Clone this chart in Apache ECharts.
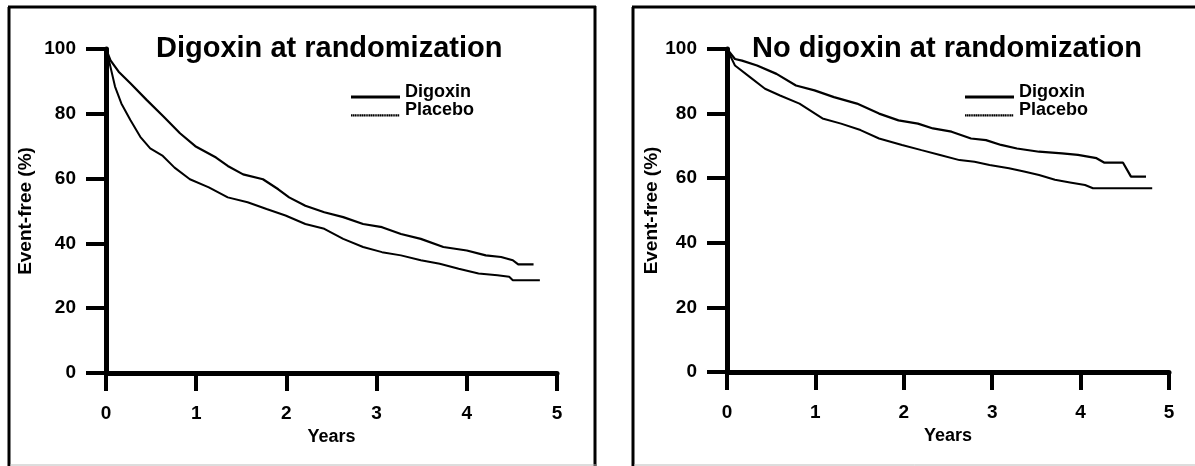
<!DOCTYPE html>
<html>
<head>
<meta charset="utf-8">
<script src="https://cdn.jsdelivr.net/npm/echarts@6/dist/echarts.min.js"></script>
<style>
  html, body { margin: 0; padding: 0; background: #fff; }
  #chart { width: 1195px; height: 466px; }
</style>
</head>
<body>
<div id="chart"></div>
<script>
// Kaplan-Meier style event-free curves, two subgroups side by side
const panelTitles = ['Digoxin at randomization', 'No digoxin at randomization'];
const seriesNames = ['Digoxin', 'Placebo'];
const yearTicks = [0, 1, 2, 3, 4, 5];
const pctTicks = [0, 20, 40, 60, 80, 100];

// Panel 1: patients on digoxin at randomization  [years, event-free %]
const withDigDigoxin = [
  [0, 100], [0.05, 96.5], [0.14, 93.0], [0.27, 89.4], [0.45, 84.3], [0.64, 79.1],
  [0.82, 74.0], [0.99, 70.0], [1.22, 66.5], [1.35, 63.9], [1.52, 61.3], [1.74, 59.8],
  [1.91, 56.7], [2.03, 54.2], [2.21, 51.6], [2.42, 49.6], [2.63, 48.1], [2.85, 46.0],
  [3.06, 45.0], [3.27, 42.9], [3.49, 41.4], [3.74, 38.9], [4.00, 37.8], [4.21, 36.3],
  [4.38, 35.8], [4.51, 34.8], [4.57, 33.5], [4.74, 33.5]
];
const withDigPlacebo = [
  [0, 100], [0.04, 95.6], [0.10, 88.4], [0.17, 83.2], [0.27, 78.1], [0.38, 72.9],
  [0.49, 69.3], [0.63, 67.0], [0.76, 63.4], [0.93, 59.8], [1.14, 57.3], [1.35, 54.2],
  [1.57, 52.7], [1.78, 50.6], [1.99, 48.6], [2.21, 46.0], [2.42, 44.5], [2.63, 41.4],
  [2.85, 38.9], [3.06, 37.3], [3.27, 36.3], [3.49, 34.8], [3.70, 33.7], [3.91, 32.2],
  [4.13, 30.7], [4.34, 30.2], [4.47, 29.7], [4.51, 28.6], [4.81, 28.6]
];

// Panel 2: patients not on digoxin at randomization
const noDigDigoxin = [
  [0, 100], [0.09, 96.9], [0.17, 96.4], [0.34, 94.9], [0.56, 92.3], [0.78, 88.7],
  [0.99, 87.2], [1.21, 85.1], [1.47, 83.1], [1.72, 80.0], [1.94, 77.9], [2.16, 76.9],
  [2.33, 75.4], [2.54, 74.4], [2.76, 72.3], [2.93, 71.8], [3.10, 70.3], [3.28, 69.2],
  [3.53, 68.2], [3.79, 67.7], [3.97, 67.2], [4.18, 66.2], [4.27, 64.8], [4.48, 64.8],
  [4.57, 60.5], [4.74, 60.5]
];
const noDigPlacebo = [
  [0, 100], [0.09, 94.9], [0.26, 91.3], [0.43, 87.7], [0.60, 85.6], [0.82, 83.1],
  [1.08, 78.5], [1.29, 76.9], [1.51, 74.9], [1.72, 72.3], [1.98, 70.3], [2.20, 68.7],
  [2.41, 67.2], [2.63, 65.6], [2.80, 65.1], [2.97, 64.1], [3.19, 63.1], [3.36, 62.1],
  [3.53, 61.0], [3.71, 59.5], [3.88, 58.7], [4.05, 57.9], [4.14, 56.9], [4.81, 56.9]
];

const INK = '#000';
const FONT = '"Liberation Sans", Arial, Helvetica, sans-serif';

const grids = [
  { left: 106, top: 49, width: 451, height: 324 },
  { left: 727, top: 49, width: 442, height: 323 }
];

function xAxisFor(i) {
  return {
    type: 'value', gridIndex: i, min: 0, max: 5, interval: 1, offset: 7,
    name: 'Years', nameLocation: 'middle', nameGap: 47,
    nameTextStyle: { color: INK, fontFamily: FONT, fontWeight: 'bold', fontSize: 18 },
    axisLine: { lineStyle: { color: INK, width: 5 } },
    axisTick: { length: 18, lineStyle: { color: INK, width: 4 } },
    axisLabel: {
      margin: 24, color: INK, fontFamily: FONT, fontWeight: 'bold', fontSize: 19,
      formatter: v => (yearTicks.includes(v) ? String(v) : '')
    },
    splitLine: { show: false }
  };
}

function yAxisFor(i, gap) {
  return {
    type: 'value', gridIndex: i, min: 0, max: 100, interval: 20, offset: 3,
    name: 'Event-free (%)', nameLocation: 'middle', nameGap: gap,
    nameTextStyle: { color: INK, fontFamily: FONT, fontWeight: 'bold', fontSize: 19 },
    axisLine: { show: true, lineStyle: { color: INK, width: 5 } },
    axisTick: { show: true, length: 20, lineStyle: { color: INK, width: 4 } },
    axisLabel: {
      margin: 27, color: INK, fontFamily: FONT, fontWeight: 'bold', fontSize: 19,
      formatter: v => (pctTicks.includes(v) ? String(v) : '')
    },
    splitLine: { show: false }
  };
}

function curve(name, data, i, width) {
  return {
    type: 'line', name, data, xAxisIndex: i, yAxisIndex: i,
    symbol: 'none', smooth: false, animation: false,
    lineStyle: { color: INK, width },
    itemStyle: { color: INK }
  };
}

// Legend keys: a bar sitting at the text baseline (solid for Digoxin, dotted for Placebo).
// The hair-thin first rectangle pins the icon's top edge so the bar stays at the bottom.
const KEY_W = 49, KEY_H = 13;
const solidKey = 'path://M0,0h' + KEY_W + 'v0.01h-' + KEY_W + 'Z M0,10h' + KEY_W + 'v3h-' + KEY_W + 'Z';
let dottedKey = 'path://M0,0h' + KEY_W + 'v0.01h-' + KEY_W + 'Z';
for (let x = 0; x < KEY_W - 0.5; x += 1.8) {
  dottedKey += ' M' + x.toFixed(2) + ',' + (KEY_H - 2.2) + 'h1.4v2.2h-1.4Z';
}

function legendFor(left) {
  return {
    left, top: 83, orient: 'vertical', padding: 0,
    itemWidth: KEY_W, itemHeight: KEY_H, itemGap: 0, selectedMode: false,
    itemStyle: { color: INK, borderWidth: 0 },
    textStyle: {
      color: INK, fontFamily: FONT, fontWeight: 'bold', fontSize: 18, lineHeight: 15
    },
    data: [
      { name: seriesNames[0], icon: solidKey },
      { name: seriesNames[1], icon: dottedKey }
    ]
  };
}

// Panel frames (open at the bottom, as cut from a printed page)
function seg(x1, y1, x2, y2, w, c) {
  return { type: 'line', silent: true, shape: { x1, y1, x2, y2 },
           style: { stroke: c || INK, lineWidth: w } };
}

const chart = echarts.init(document.getElementById('chart'), null, { renderer: 'canvas' });
chart.setOption({
  backgroundColor: '#fff',
  animation: false,
  title: [
    { text: panelTitles[0], left: 156, top: 34, padding: 0,
      textStyle: { color: INK, fontFamily: FONT, fontWeight: 'bold', fontSize: 29 } },
    { text: panelTitles[1], left: 752, top: 34, padding: 0,
      textStyle: { color: INK, fontFamily: FONT, fontWeight: 'bold', fontSize: 29 } }
  ],
  legend: [legendFor(351), legendFor(965)],
  grid: grids,
  xAxis: [xAxisFor(0), xAxisFor(1)],
  yAxis: [yAxisFor(0, 68), yAxisFor(1, 62)],
  series: [
    curve(seriesNames[0], withDigDigoxin, 0, 2.2),
    curve(seriesNames[1], withDigPlacebo, 0, 2),
    curve(seriesNames[0], noDigDigoxin, 1, 2.2),
    curve(seriesNames[1], noDigPlacebo, 1, 2)
  ],
  graphic: [
    seg(9, 7, 9, 466, 3),
    seg(8, 7, 596, 7, 3),
    seg(595, 6, 595, 466, 3),
    seg(10, 465, 596, 465, 1, '#bbb'),
    seg(633, 7, 633, 466, 3),
    seg(632, 7, 1195, 7, 3),
    seg(634, 465, 1195, 465, 1, '#bbb')
  ]
});
</script>
</body>
</html>
